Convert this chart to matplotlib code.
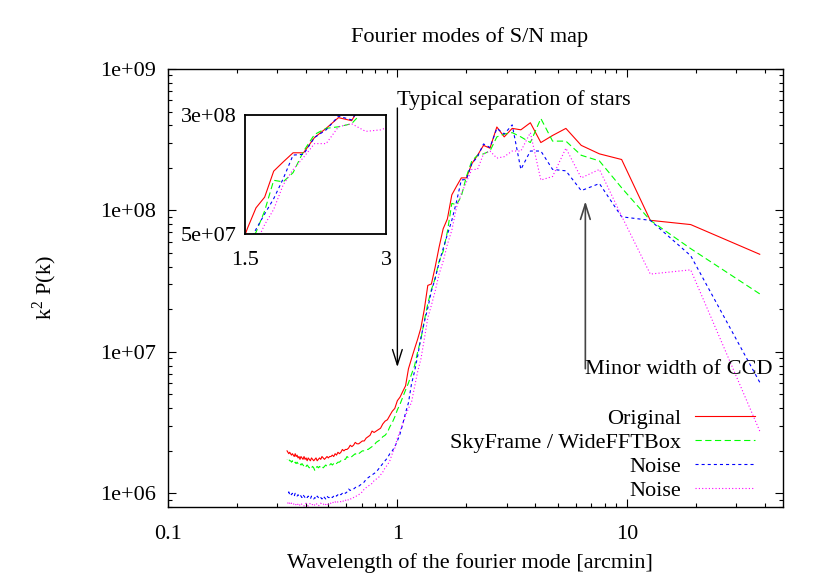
import numpy as np
import matplotlib
matplotlib.use("Agg")
import matplotlib.pyplot as plt

plt.rcParams['font.family'] = ['Liberation Serif', 'DejaVu Serif']
plt.rcParams['mathtext.fontset'] = 'custom'
plt.rcParams['mathtext.rm'] = 'Liberation Serif'
plt.rcParams['lines.scale_dashes'] = False

# ---------------------------------------
# DATA  (mode n = 1..115, wavelength = 38 arcmin / n)
# values are log10 of k^2 P(k)
# ---------------------------------------
box_size = 38.0
modes = np.arange(1, 116)
wavelength = box_size / modes

log_original = [
    7.69, 7.90, 7.93, 8.36, 8.40, 8.46, 8.58, 8.53, 8.48, 8.62,
    8.57, 8.58, 8.52, 8.59, 8.44, 8.46, 8.39, 8.33, 8.23, 8.23,
    8.17, 8.11, 7.94, 7.87, 7.74, 7.60, 7.48, 7.47, 7.30, 7.17,
    7.09, 7.02, 6.95, 6.88, 6.76, 6.72, 6.68, 6.655, 6.60, 6.58,
    6.55, 6.52, 6.51, 6.49, 6.46, 6.45, 6.44, 6.43, 6.44, 6.41,
    6.40, 6.39, 6.37, 6.37, 6.36, 6.35, 6.35, 6.36, 6.34, 6.33,
    6.34, 6.32, 6.31, 6.31, 6.30, 6.31, 6.29, 6.28, 6.29, 6.27,
    6.28, 6.26, 6.27, 6.26, 6.26, 6.25, 6.26, 6.25, 6.24, 6.25,
    6.26, 6.24, 6.25, 6.24, 6.23, 6.25, 6.24, 6.23, 6.24, 6.25,
    6.23, 6.24, 6.25, 6.23, 6.25, 6.24, 6.26, 6.24, 6.25, 6.26,
    6.24, 6.26, 6.25, 6.27, 6.26, 6.28, 6.26, 6.27, 6.28, 6.27,
    6.28, 6.29, 6.28, 6.29, 6.30,
]

log_skyframe = [
    7.41, 7.73, 7.93, 8.16, 8.35, 8.39, 8.49, 8.49, 8.65, 8.48,
    8.52, 8.55, 8.54, 8.52, 8.42, 8.40, 8.39, 8.35, 8.24, 8.10,
    8.04, 8.05, 7.85, 7.71, 7.64, 7.52, 7.44, 7.34, 7.22, 7.09,
    7.00, 6.90, 6.84, 6.78, 6.73, 6.68, 6.63, 6.59, 6.54, 6.50,
    6.47, 6.43, 6.41, 6.40, 6.38, 6.37, 6.36, 6.34, 6.33, 6.32,
    6.31, 6.31, 6.30, 6.30, 6.29, 6.28, 6.27, 6.28, 6.27, 6.26,
    6.25, 6.25, 6.26, 6.24, 6.24, 6.23, 6.23, 6.22, 6.22, 6.21,
    6.22, 6.21, 6.20, 6.21, 6.20, 6.20, 6.19, 6.20, 6.19, 6.18,
    6.19, 6.18, 6.19, 6.18, 6.19, 6.18, 6.16, 6.18, 6.19, 6.18,
    6.19, 6.18, 6.19, 6.20, 6.19, 6.20, 6.19, 6.20, 6.21, 6.20,
    6.21, 6.20, 6.21, 6.22, 6.21, 6.22, 6.21, 6.22, 6.23, 6.22,
    6.23, 6.23, 6.24, 6.23, 6.24,
]

log_noise1 = [
    6.785, 7.68, 7.93, 7.955, 8.19, 8.14, 8.28, 8.29, 8.42, 8.42,
    8.29, 8.605, 8.54, 8.58, 8.445, 8.47, 8.38, 8.33, 8.22, 8.215,
    8.06, 7.93, 7.83, 7.73, 7.63, 7.52, 7.43, 7.31, 7.21, 7.10,
    6.97, 6.86, 6.77, 6.64, 6.57, 6.49, 6.42, 6.37, 6.33, 6.30,
    6.28, 6.25, 6.23, 6.21, 6.19, 6.17, 6.15, 6.14, 6.13, 6.12,
    6.11, 6.10, 6.08, 6.07, 6.06, 6.05, 6.05, 6.04, 6.03, 6.03,
    6.02, 6.03, 6.01, 6.00, 6.01, 6.00, 5.99, 6.00, 5.99, 5.98,
    5.99, 5.98, 5.97, 5.98, 5.97, 5.97, 5.98, 5.96, 5.97, 5.98,
    5.96, 5.97, 5.96, 5.97, 5.98, 5.96, 5.97, 5.96, 5.97, 5.98,
    5.96, 5.97, 5.98, 5.97, 5.98, 5.97, 5.98, 5.99, 5.97, 5.98,
    5.99, 5.98, 5.99, 5.98, 5.99, 6.00, 5.98, 5.99, 6.00, 5.99,
    6.00, 5.99, 6.01, 6.00, 6.00,
]

log_noise2 = [
    6.44, 7.58, 7.55, 7.96, 8.29, 8.23, 8.44, 8.24, 8.215, 8.55,
    8.42, 8.42, 8.38, 8.37, 8.42, 8.40, 8.29, 8.29, 8.20, 8.12,
    8.02, 7.86, 7.76, 7.64, 7.55, 7.43, 7.33, 7.24, 7.09, 6.95,
    6.86, 6.75, 6.64, 6.60, 6.55, 6.49, 6.44, 6.39, 6.32, 6.28,
    6.23, 6.20, 6.18, 6.15, 6.13, 6.11, 6.10, 6.09, 6.07, 6.06,
    6.05, 6.04, 6.03, 6.01, 6.00, 5.99, 5.98, 5.98, 5.97, 5.96,
    5.96, 5.95, 5.96, 5.95, 5.94, 5.95, 5.94, 5.945, 5.94, 5.93,
    5.94, 5.93, 5.94, 5.93, 5.93, 5.92, 5.93, 5.92, 5.93, 5.92,
    5.92, 5.93, 5.92, 5.91, 5.92, 5.93, 5.92, 5.91, 5.92, 5.92,
    5.93, 5.92, 5.91, 5.92, 5.93, 5.92, 5.91, 5.92, 5.92, 5.93,
    5.92, 5.91, 5.92, 5.93, 5.92, 5.92, 5.93, 5.92, 5.93, 5.93,
    5.92, 5.93, 5.94, 5.93, 5.94,
]

labels = ["Original", "SkyFrame / WideFFTBox", "Noise", "Noise"]
colors = ["#ff0000", "#00ff00", "#0000ff", "#ff00ff"]
dashes = [None, (4.5, 2.5), (2.2, 2.2), (0.8, 1.6)]
series = [log_original, log_skyframe, log_noise1, log_noise2]

FS = 16

# ---------------------------------------
# FIGURE
# ---------------------------------------
fig = plt.figure(figsize=(8.3, 5.81), dpi=100)
ax = fig.add_axes([168/830, 1-507/581, 615/830, 438/581])


def draw_curves(a, with_labels):
    for vals, lab, col, d in zip(series, labels, colors, dashes):
        line, = a.plot(wavelength, 10**np.array(vals), color=col, lw=0.8,
                       label=lab if with_labels else None)
        if d is not None:
            line.set_dashes(d)


draw_curves(ax, True)

ax.set_xscale('log')
ax.set_yscale('log')
ax.set_xlim(0.1, 48)
ax.set_ylim(8e5, 1e9)

ax.set_xticks([0.1, 1, 10])
ax.set_xticklabels(["0.1", "1", "10"])
ax.set_yticks([1e6, 1e7, 1e8, 1e9])
ax.set_yticklabels(["1e+06", "1e+07", "1e+08", "1e+09"])
ax.tick_params(which='both', direction='in', top=True, right=True,
               labelsize=FS, width=0.8)
ax.tick_params(which='major', length=6)
ax.tick_params(which='minor', length=3)
ax.tick_params(axis='x', pad=13)
ax.tick_params(axis='y', pad=9)
for s in ax.spines.values():
    s.set_linewidth(1.0)

leg = ax.legend(loc='lower right', bbox_to_anchor=(0.955, 0.014),
                frameon=False, markerfirst=False, fontsize=FS,
                handlelength=2.7, handletextpad=0.63, labelspacing=0.16,
                borderpad=0, borderaxespad=0)
for t in leg.get_texts():
    t.set_ha('right')

# annotations
ax.annotate("", xy=(1.0, 7.8e6), xytext=(1.0, 5.3e8),
            arrowprops=dict(arrowstyle='->,head_length=1.1,head_width=0.35',
                            color='black', lw=1.0, shrinkA=0, shrinkB=0,
                            mutation_scale=10))
ax.text(0.995, 5.6e8, "Typical separation of stars", fontsize=FS,
        ha='left', va='baseline')

ax.annotate("", xy=(6.6, 1.16e8), xytext=(6.6, 7.6e6),
            arrowprops=dict(arrowstyle='->,head_length=1.1,head_width=0.35',
                            color='#444444', lw=1.2, shrinkA=0, shrinkB=0,
                            mutation_scale=10))
ax.text(6.55, 6.95e6, "Minor width of CCD", fontsize=FS,
        ha='left', va='baseline')

# inset
axin = fig.add_axes([245/830, 1-234/581, 141/830, 119/581])
draw_curves(axin, False)
axin.set_xscale('log')
axin.set_yscale('log')
axin.set_xlim(1.5, 3)
axin.set_ylim(5e7, 3e8)
axin.minorticks_off()
axin.set_xticks([1.5, 3])
axin.set_xticklabels(["1.5", "3"])
axin.set_yticks([5e7, 3e8])
axin.set_yticklabels(["5e+07", "3e+08"])
axin.tick_params(which='both', length=0, labelsize=FS)
axin.tick_params(axis='x', pad=12)
axin.tick_params(axis='y', pad=6)
for s in axin.spines.values():
    s.set_linewidth(1.3)

fig.text(470/830, 1-37/581, "Fourier modes of S/N map", fontsize=FS,
         ha='center', va='center')
fig.text(470/830, 1-563/581, "Wavelength of the fourier mode [arcmin]",
         fontsize=FS, ha='center', va='center')
fig.text(45/830, 1-288/581, r"k$^{\mathrm{2}}$ P(k)", fontsize=FS,
         ha='center', va='center', rotation=90)

fig.savefig("out.png", dpi=100)
